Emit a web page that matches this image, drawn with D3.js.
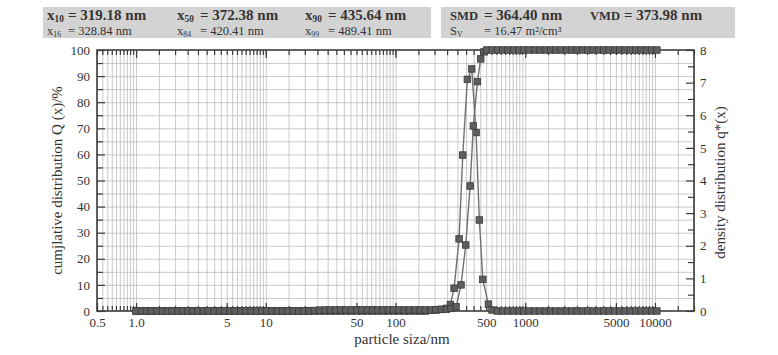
<!DOCTYPE html>
<html>
<head>
<meta charset="utf-8">
<script src="https://cdn.jsdelivr.net/npm/d3@7/dist/d3.min.js"></script>
<style>
  html, body { margin: 0; padding: 0; background: #fff; }
  svg { display: block; }
  text { font-family: "Liberation Serif", "DejaVu Serif", serif; fill: #333; }
</style>
</head>
<body>
<svg id="chart" width="778" height="355"></svg>
<script>
// ---------------- data ----------------
// header statistics
const headRow1Names = [["x", "10"], ["x", "50"], ["x", "90"], ["SMD", ""], ["VMD", ""]];
const headRow1Vals  = ["= 319.18 nm", "= 372.38 nm", "= 435.64 nm", "= 364.40 nm", "= 373.98 nm"];
const headRow2Names = [["x", "16"], ["x", "84"], ["x", "99"], ["S", "V"]];
const headRow2Vals  = ["= 328.84 nm", "= 420.41 nm", "= 489.41 nm", "= 16.47 m²/cm³"];

// x tick labels (particle size, nm)
const xLabelVals = [0.5, 1, 5, 10, 50, 100, 500, 1000, 5000, 10000];
const xLabelText = ["0.5", "1.0", "5", "10", "50", "100", "500", "1000", "5000", "10000"];
const yLeftTicks = [0, 10, 20, 30, 40, 50, 60, 70, 80, 90, 100];
const yRightTicks = [0, 1, 2, 3, 4, 5, 6, 7, 8];

// shared size grid, low band (nm)
const sizesLow = [1.0, 1.1, 1.2, 1.3, 1.45, 1.6, 1.75, 1.9, 2.1, 2.3, 2.5, 2.75, 3.0, 3.3, 3.6, 4.0,
  4.4, 4.8, 5.3, 5.8, 6.4, 7.0, 7.7, 8.5, 9.3, 10.2, 11.2, 12.3, 13.5, 14.8, 16.3, 17.9, 19.7,
  21.6, 23.7, 26, 28.6, 31.4, 34.5, 37.9, 41.6, 45.7, 50.2, 55.2, 60.6, 66.6, 73.1, 80.3, 88.2,
  96.9, 106, 117, 128, 141, 155, 170, 187, 205, 225, 247];
// shared size grid, high band (nm)
const sizesHigh = [555, 610, 670, 735, 810, 890, 975, 1070, 1180, 1300, 1430, 1570, 1720, 1890,
  2080, 2290, 2510, 2760, 3040, 3340, 3670, 4030, 4430, 4870, 5350, 5880, 6460, 7100, 7800,
  8570, 9420, 10350];

// cumulative distribution Q(x) %
const cumLow = [0, 0, 0, 0, 0, 0, 0, 0, 0, 0, 0, 0, 0, 0, 0, 0,
  0, 0, 0, 0, 0, 0, 0, 0, 0, 0, 0, 0, 0, 0, 0, 0, 0,
  0.1, 0.2, 0.3, 0.4, 0.4, 0.4, 0.4, 0.4, 0.4, 0.4, 0.4, 0.4, 0.4, 0.4, 0.4, 0.4,
  0.4, 0.4, 0.4, 0.4, 0.4, 0.4, 0.4, 0.4, 0.5, 0.6, 0.7];
const cumPeakSizes = [268, 293, 320, 348, 376, 398, 428, 454, 482, 505];
const cumPeak      = [1.0, 1.6, 10.0, 25.3, 47.9, 70.9, 87.9, 96.6, 99.3, 100];
const cumHigh = [100, 100, 100, 100, 100, 100, 100, 100, 100, 100, 100, 100, 100, 100,
  100, 100, 100, 100, 100, 100, 100, 100, 100, 100, 100, 100, 100, 100, 100,
  100, 100, 100];

// density distribution q*(x)
const densLow = [0, 0, 0, 0, 0, 0, 0, 0, 0, 0, 0, 0, 0, 0, 0, 0,
  0, 0, 0, 0, 0, 0, 0, 0, 0, 0, 0, 0, 0, 0, 0, 0, 0,
  0, 0, 0, 0, 0, 0, 0, 0, 0, 0, 0, 0, 0, 0, 0, 0,
  0, 0, 0, 0, 0, 0, 0, 0.02, 0.03, 0.05, 0.08];
const densPeakSizes = [265, 283, 309, 330, 358, 387, 418, 443, 471, 520];
const densPeak      = [0.2, 0.7, 2.21, 4.78, 7.10, 7.42, 5.47, 2.79, 0.97, 0.21];
const densHigh = [0.03, 0, 0, 0, 0, 0, 0, 0, 0, 0, 0, 0, 0, 0,
  0, 0, 0, 0, 0, 0, 0, 0, 0, 0, 0, 0, 0, 0, 0,
  0, 0, 0];

// ---------------- build ----------------
const cumSeries = [].concat(
  sizesLow.map((s, i) => [s, cumLow[i]]),
  cumPeakSizes.map((s, i) => [s, cumPeak[i]]),
  sizesHigh.map((s, i) => [s, cumHigh[i]]));
const densSeries = [].concat(
  sizesLow.map((s, i) => [s, densLow[i]]),
  densPeakSizes.map((s, i) => [s, densPeak[i]]),
  sizesHigh.map((s, i) => [s, densHigh[i]]));

const svg = d3.select("#chart");
const L = 97, R = 694, T = 50, B = 311;

const x = d3.scaleLog().domain([0.5, 20000]).range([L, R]);
const yQ = d3.scaleLinear().domain([0, 100]).range([B, T]);
const yq = d3.scaleLinear().domain([0, 8]).range([B, T]);

// minor tick positions: k * 10^n for k = 1, 1.5, ... 9.5
const minorVals = [];
for (let n = -1; n <= 4; n++) {
  for (let k = 1; k < 10; k += 0.5) {
    const v = +(k * Math.pow(10, n)).toPrecision(6);
    if (v >= 0.5 && v <= 20000) minorVals.push(v);
  }
}
const decadeVals = [1, 10, 100, 1000, 10000];

// ---------------- header ----------------
const head = svg.append("g");
head.append("rect").attr("x", 43).attr("y", 7).attr("width", 388).attr("height", 31).attr("fill", "#d3d3d3");
head.append("rect").attr("x", 441).attr("y", 7).attr("width", 294).attr("height", 31).attr("fill", "#d3d3d3");

const nameX = [47, 177, 305, 450, 590];
const valX  = [68, 200, 328, 484, 624];
function headerRow(names, vals, y, size, weight) {
  names.forEach((nm, i) => {
    const t = head.append("text").attr("x", nameX[i]).attr("y", y)
      .attr("font-size", nm[0].length > 1 ? size * 0.84 : size).attr("font-weight", weight);
    t.append("tspan").text(nm[0]);
    if (nm[1]) t.append("tspan").attr("font-size", size * 0.62).attr("dy", 2).text(nm[1]);
    head.append("text").attr("x", valX[i]).attr("y", y)
      .attr("font-size", size).attr("font-weight", weight).text(vals[i]);
  });
}
headerRow(headRow1Names, headRow1Vals, 19.5, 15, "bold");
headerRow(headRow2Names, headRow2Vals, 35, 12.5, "normal");

// ---------------- grid ----------------
const grid = svg.append("g");
grid.append("g").attr("transform", `translate(0,${B})`)
  .call(d3.axisBottom(x).tickValues(minorVals).tickSize(-(B - T)).tickFormat(""))
  .call(g => g.select(".domain").remove())
  .call(g => g.selectAll("line").attr("stroke", "#bdbdbd").attr("stroke-width", 0.8));
grid.append("g").attr("transform", `translate(${L},0)`)
  .call(d3.axisLeft(yQ).tickValues(d3.range(5, 100, 5)).tickSize(-(R - L)).tickFormat(""))
  .call(g => g.select(".domain").remove())
  .call(g => g.selectAll("line").attr("stroke", "#bdbdbd").attr("stroke-width", 0.8));

// ---------------- axes ----------------
const axisColor = "#3c3c3c";
function styleAxis(g) {
  g.select(".domain").remove();
  g.selectAll("line").attr("stroke", axisColor).attr("stroke-width", 1.2);
  g.selectAll("text").attr("font-family", "'Liberation Serif', serif").attr("font-size", 13).attr("fill", "#333");
}
// bottom minor ticks (inward)
svg.append("g").attr("transform", `translate(0,${B})`)
  .call(d3.axisBottom(x).tickValues(minorVals).tickSize(-5).tickFormat("")).call(styleAxis);
// bottom labelled ticks
svg.append("g").attr("transform", `translate(0,${B})`)
  .call(d3.axisBottom(x).tickValues(xLabelVals).tickSize(-8).tickPadding(7)
    .tickFormat((d, i) => xLabelText[i])).call(styleAxis);
// top ticks (inward)
svg.append("g").attr("transform", `translate(0,${T})`)
  .call(d3.axisTop(x).tickValues(minorVals).tickSize(-5).tickFormat("")).call(styleAxis);
svg.append("g").attr("transform", `translate(0,${T})`)
  .call(d3.axisTop(x).tickValues(decadeVals).tickSize(-8).tickFormat("")).call(styleAxis);
// left axis
svg.append("g").attr("transform", `translate(${L},0)`)
  .call(d3.axisLeft(yQ).tickValues(d3.range(5, 100, 10)).tickSize(-6).tickFormat("")).call(styleAxis);
svg.append("g").attr("transform", `translate(${L},0)`)
  .call(d3.axisLeft(yQ).tickValues(yLeftTicks).tickSize(-8).tickPadding(7)).call(styleAxis);
// right axis
svg.append("g").attr("transform", `translate(${R},0)`)
  .call(d3.axisRight(yq).tickValues(d3.range(0.5, 8, 1)).tickSize(-6).tickFormat("")).call(styleAxis);
svg.append("g").attr("transform", `translate(${R},0)`)
  .call(d3.axisRight(yq).tickValues(yRightTicks).tickSize(-8).tickPadding(6)).call(styleAxis);

// frame
svg.append("rect").attr("x", L).attr("y", T).attr("width", R - L).attr("height", B - T)
  .attr("fill", "none").attr("stroke", axisColor).attr("stroke-width", 1.6);

// ---------------- series ----------------
function drawSeries(data, yScale) {
  const line = d3.line().x(d => x(d[0])).y(d => yScale(d[1]));
  svg.append("path").datum(data).attr("d", line)
    .attr("fill", "none").attr("stroke", "#707070").attr("stroke-width", 1.4);
  const s = 6.5;
  svg.append("g").selectAll("rect").data(data).join("rect")
    .attr("x", d => x(d[0]) - s / 2).attr("y", d => yScale(d[1]) - s / 2)
    .attr("width", s).attr("height", s)
    .attr("fill", "#5e5e5e").attr("stroke", "#3a3a3a").attr("stroke-width", 0.8);
}
drawSeries(densSeries, yq);
drawSeries(cumSeries, yQ);

// ---------------- titles ----------------
svg.append("text").attr("transform", `translate(62,${(T + B) / 2}) rotate(-90)`)
  .attr("text-anchor", "middle").attr("font-size", 15).text("cumjlative distribution Q (x)/%");
svg.append("text").attr("transform", `translate(725,${(T + B) / 2 + 2}) rotate(-90)`)
  .attr("text-anchor", "middle").attr("font-size", 15).text("density distribution q*(x)");
svg.append("text").attr("x", 402).attr("y", 344)
  .attr("text-anchor", "middle").attr("font-size", 15).text("particle siza/nm");
</script>
</body>
</html>
